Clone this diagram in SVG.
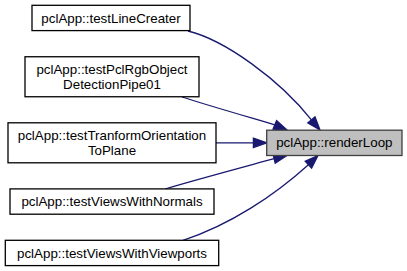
<svg xmlns="http://www.w3.org/2000/svg" width="407" height="271" viewBox="0 0 407 271">
  <style>
    .node rect { fill: #ffffff; stroke: #000000; stroke-width: 1.3; }
    .node.root rect { fill: #bfbfbf; stroke: #404040; }
    .node text { font-family: "Liberation Sans", Arial, sans-serif; font-size: 13.33px; fill: #000000; text-anchor: middle; }
    .edge path { fill: none; stroke: #191970; stroke-width: 1.3; }
    .edge polygon { fill: #191970; stroke: #191970; stroke-width: 1.3; }
  </style>
  <rect width="407" height="271" fill="#ffffff"/>

  <!-- callers of pclApp::renderLoop -->
  <g id="connectors">
    <g class="edge" id="edge-testLineCreater">
      <path d="M188,31 C225,40 280,80 311.4,119.9"/>
      <polygon points="320,130 307.8,123 315,116.9"/>
    </g>
    <g class="edge" id="edge-testPclRgbObjectDetectionPipe01">
      <path d="M182,97 C210,106 245,116 274.8,124.8"/>
      <polygon points="287,130 273,129.1 276.6,120.5"/>
    </g>
    <g class="edge" id="edge-testTranformOrientationToPlane">
      <path d="M216,142.8 L253.4,142.8"/>
      <polygon points="266.7,142.8 253.4,147.5 253.4,138.1"/>
    </g>
    <g class="edge" id="edge-testViewsWithNormals">
      <path d="M165,189 C195,180 240,168 274.1,158.7"/>
      <polygon points="287,155.5 275.2,163.3 273,154.1"/>
    </g>
    <g class="edge" id="edge-testViewsWithViewports">
      <path d="M183,240.3 C230,225 275,195 308.4,164.7"/>
      <polygon points="318,155.5 311.6,168.1 305.2,161.3"/>
    </g>
  </g>

  <g class="node" id="node-testLineCreater">
    <rect x="32" y="5.3" width="158" height="25.3"/>
    <text x="111" y="22.5">pclApp::testLineCreater</text>
  </g>
  <g class="node" id="node-testPclRgbObjectDetectionPipe01">
    <rect x="25" y="56.75" width="174" height="40"/>
    <text x="112" y="73.9">pclApp::testPclRgbObject</text>
    <text x="112" y="88.6">DetectionPipe01</text>
  </g>
  <g class="node" id="node-testTranformOrientationToPlane">
    <rect x="8" y="122.8" width="208" height="40"/>
    <text x="112" y="140">pclApp::testTranformOrientation</text>
    <text x="112" y="154.7">ToPlane</text>
  </g>
  <g class="node" id="node-testViewsWithNormals">
    <rect x="10" y="188.9" width="204" height="25.3"/>
    <text x="112" y="206">pclApp::testViewsWithNormals</text>
  </g>
  <g class="node" id="node-testViewsWithViewports">
    <rect x="5.3" y="240.3" width="213.4" height="25.3"/>
    <text x="112" y="257.5">pclApp::testViewsWithViewports</text>
  </g>
  <g class="node root" id="node-renderLoop">
    <rect x="266.7" y="130.2" width="135.3" height="25.3"/>
    <text x="334.3" y="147.4">pclApp::renderLoop</text>
  </g>
</svg>
